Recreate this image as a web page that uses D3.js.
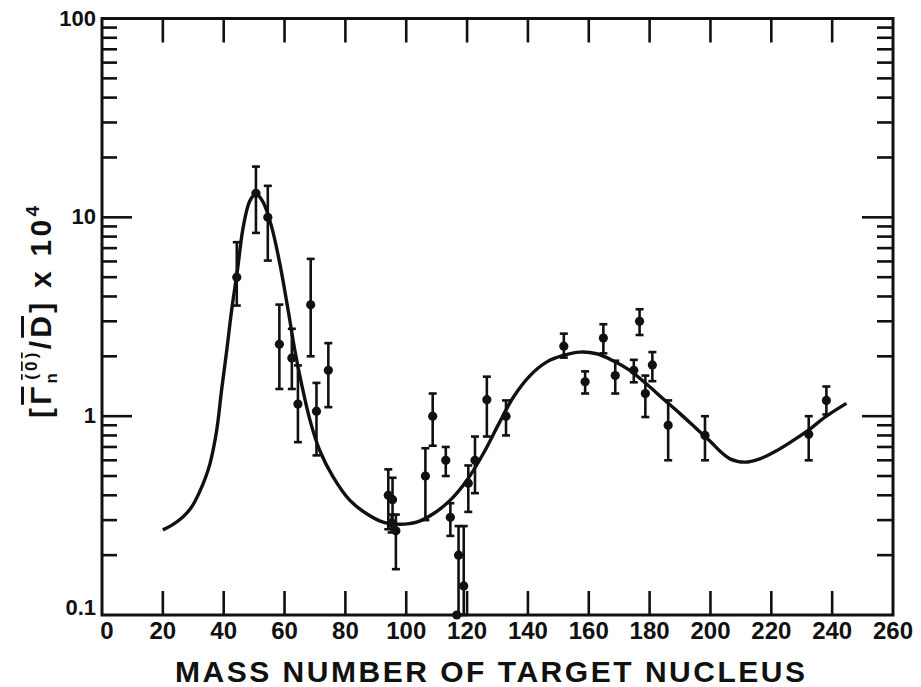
<!DOCTYPE html>
<html>
<head>
<meta charset="utf-8">
<script src="https://cdn.jsdelivr.net/npm/d3@7"></script>
<style>
  body { margin: 0; background: #fff; }
  text { font-family: "Liberation Sans", Arial, sans-serif; font-weight: bold; fill: #111; }
</style>
</head>
<body>
<svg id="chart" width="921" height="687"></svg>
<script>
// Measured strength-function ratios with error bars
const massNumbers = [44.3, 50.6, 54.5, 58.3, 62.4, 64.4, 68.6, 70.5, 74.4,
  94.1, 95.5, 95.2, 96.6, 106.3, 108.7, 113.0, 114.5, 117.2, 118.9, 116.6,
  120.4, 122.6, 126.5, 132.8, 151.8, 158.8, 164.8, 168.7, 174.8, 176.7,
  178.6, 180.9, 186.1, 198.2, 232.3, 238.1];
const ratioValues = [5.0, 13.2, 10.0, 2.3, 1.96, 1.15, 3.63, 1.06, 1.7,
  0.40, 0.38, 0.29, 0.265, 0.5, 1.0, 0.6, 0.31, 0.2, 0.14, 0.1,
  0.46, 0.6, 1.21, 1.0, 2.25, 1.49, 2.47, 1.6, 1.7, 3.0,
  1.3, 1.81, 0.9, 0.8, 0.81, 1.2];
const errorLow = [3.6, 8.35, 6.06, 1.37, 1.37, 0.74, 2.0, 0.635, 1.11,
  0.27, 0.28, 0.26, 0.17, 0.30, 0.71, 0.5, 0.25, 0.1, 0.1, null,
  0.33, 0.41, 0.79, 0.8, 1.97, 1.30, 2.07, 1.30, 1.48, 2.56,
  0.99, 1.5, 0.6, 0.6, 0.6, 1.02];
const errorHigh = [7.5, 18.0, 14.4, 3.64, 2.75, 1.8, 6.18, 1.47, 2.33,
  0.54, 0.49, 0.32, 0.32, 0.69, 1.3, 0.7, 0.365, 0.28, 0.28, null,
  0.565, 0.79, 1.58, 1.2, 2.6, 1.68, 2.9, 1.9, 1.92, 3.45,
  1.6, 2.1, 1.2, 1.0, 1.0, 1.41];

// Smooth theoretical curve
const curveMass = [20, 23, 26.5, 29.5, 32.2, 34, 35.5, 37.7, 39.3, 41, 42.6, 44.5, 46.4, 48.6,
  50.6, 53, 55.8, 58.5, 61.2, 63.4, 65.6, 68.4, 71.6, 76, 81.5, 87, 92.4, 98,
  103.4, 108.9, 114.4, 119.9, 125.3, 130.5, 135.2, 140.7, 146.1, 151.6, 157.1,
  162.6, 168, 173.5, 179, 184.5, 190, 195.4, 200, 203, 206.4, 211.3, 216.2,
  221.7, 227.2, 232.1, 238.1, 244.7];
const curveRatio = [0.268, 0.283, 0.31, 0.35, 0.42, 0.49, 0.577, 0.85, 1.35, 2.14, 3.4, 5.4, 8.9, 12.1,
  13.1, 11.9, 8.9, 5.8, 3.4, 2.14, 1.45, 0.95, 0.67, 0.494, 0.377, 0.323, 0.293, 0.286,
  0.293, 0.323, 0.377, 0.475, 0.647, 0.92, 1.245, 1.6, 1.87, 2.02, 2.1,
  2.06, 1.9, 1.7, 1.45, 1.22, 1.03, 0.865, 0.745, 0.67, 0.61, 0.587, 0.61,
  0.67, 0.755, 0.848, 1.0, 1.16];

const xTickValues = [0, 20, 40, 60, 80, 100, 120, 140, 160, 180, 200, 220, 240, 260];
const yTickValues = [0.1, 1, 10, 100];
const yTickLabels = ["0.1", "1", "10", "100"];

const svg = d3.select("#chart");
const x = d3.scaleLinear().domain([0, 260]).range([102, 893]);
const y = d3.scaleLog().domain([0.1, 100]).range([615, 18.5]);
const ink = "#111";

// Frame
svg.append("rect")
  .attr("x", x(0)).attr("y", y(100))
  .attr("width", x(260) - x(0)).attr("height", y(0.1) - y(100))
  .attr("fill", "none").attr("stroke", ink).attr("stroke-width", 3);

// X ticks (inside, top and bottom)
const xInner = xTickValues.filter(v => v > 0 && v < 260);
const ticks = svg.append("g").attr("stroke", ink).attr("stroke-width", 2.6);
xInner.forEach(v => {
  ticks.append("line").attr("x1", x(v)).attr("x2", x(v)).attr("y1", y(0.1)).attr("y2", y(0.1) - 24);
  ticks.append("line").attr("x1", x(v)).attr("x2", x(v)).attr("y1", y(100)).attr("y2", y(100) + 24);
});

// Y ticks: minor 2..9 in each decade, major at decades
[0.1, 1, 10].forEach(d => {
  for (let k = 2; k <= 9; k++) {
    const v = k * d;
    ticks.append("line").attr("x1", x(0)).attr("x2", x(0) + 15).attr("y1", y(v)).attr("y2", y(v));
    ticks.append("line").attr("x1", x(260) - 16).attr("x2", x(260)).attr("y1", y(v)).attr("y2", y(v));
  }
});
[1, 10].forEach(v => {
  ticks.append("line").attr("x1", x(0)).attr("x2", x(0) + 30).attr("y1", y(v)).attr("y2", y(v));
  ticks.append("line").attr("x1", x(260) - 31).attr("x2", x(260)).attr("y1", y(v)).attr("y2", y(v));
});

// Tick labels
svg.append("g").selectAll("text").data(xTickValues).join("text")
  .attr("x", d => x(d) + (d === 0 ? 5 : 0))
  .attr("y", 639)
  .attr("text-anchor", "middle")
  .attr("font-size", 24)
  .text(d => d);

svg.append("g").selectAll("text").data(yTickValues).join("text")
  .attr("x", 96)
  .attr("y", d => Math.min(y(d) + 7, y(0.1)))
  .attr("text-anchor", "end")
  .attr("font-size", 22)
  .text((d, i) => yTickLabels[i]);

// Axis titles
svg.append("text")
  .attr("x", 490).attr("y", 682)
  .attr("text-anchor", "middle")
  .attr("font-size", 30)
  .attr("textLength", 630)
  .attr("lengthAdjust", "spacing")
  .text("MASS NUMBER OF TARGET NUCLEUS");

const yTitle = svg.append("text")
  .attr("transform", "translate(51,312) rotate(-90)")
  .attr("text-anchor", "middle")
  .attr("font-size", 30)
  .attr("textLength", 212)
  .attr("lengthAdjust", "spacing");
yTitle.append("tspan").text("[");
yTitle.append("tspan").attr("text-decoration", "overline").text("Γ");
yTitle.append("tspan").attr("font-size", 17).attr("dy", 6).text("n");
yTitle.append("tspan").attr("font-size", 17).attr("dx", -10).attr("dy", -20)
  .attr("text-decoration", "overline").text("(0)");
yTitle.append("tspan").attr("dy", 14).text("/");
yTitle.append("tspan").attr("text-decoration", "overline").text("D");
yTitle.append("tspan").text("] x 10");
yTitle.append("tspan").attr("font-size", 19).attr("dy", -12).text("4");

// Theoretical curve
const curvePoints = curveMass.map((m, i) => [m, curveRatio[i]]);
svg.append("path")
  .datum(curvePoints)
  .attr("fill", "none")
  .attr("stroke", ink)
  .attr("stroke-width", 3.4)
  .attr("stroke-linejoin", "round")
  .attr("d", d3.line().x(d => x(d[0])).y(d => y(d[1])).curve(d3.curveCatmullRom.alpha(0.5)));

// Data points with error bars
const points = massNumbers.map((m, i) => ({ m, v: ratioValues[i], lo: errorLow[i], hi: errorHigh[i] }));
const bars = svg.append("g").attr("stroke", ink).attr("stroke-width", 2.6);
points.filter(p => p.lo != null).forEach(p => {
  bars.append("line").attr("x1", x(p.m)).attr("x2", x(p.m)).attr("y1", y(p.lo)).attr("y2", y(p.hi));
  [p.lo, p.hi].forEach(e => {
    bars.append("line").attr("x1", x(p.m) - 4).attr("x2", x(p.m) + 4).attr("y1", y(e)).attr("y2", y(e));
  });
});
svg.append("g").selectAll("circle").data(points).join("circle")
  .attr("cx", d => x(d.m))
  .attr("cy", d => y(d.v))
  .attr("r", 4.6)
  .attr("fill", ink);
</script>
</body>
</html>
